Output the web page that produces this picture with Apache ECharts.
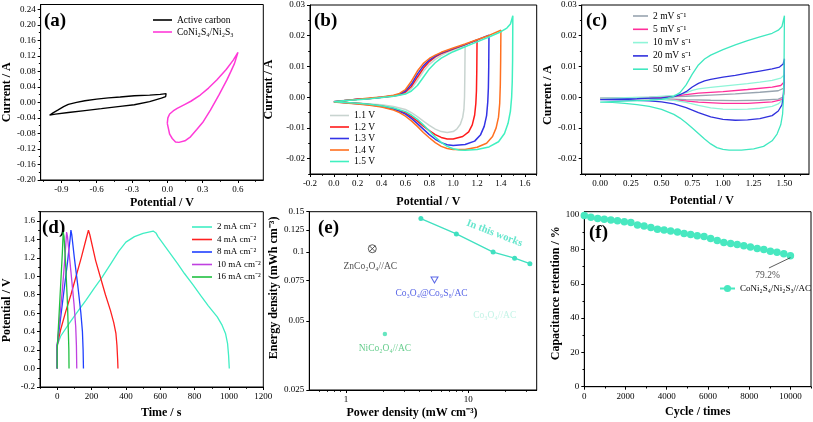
<!DOCTYPE html>
<html><head><meta charset="utf-8">
<script src="https://cdn.jsdelivr.net/npm/echarts@6/dist/echarts.min.js"></script>
<style>html,body{margin:0;padding:0;background:#fff}#c{width:813px;height:422px}</style>
</head><body><div id="c"></div><script>
const FONT = '"Liberation Serif","Times New Roman",serif';

// ---------- (a) CV of electrodes ----------
const aCarbon = [[-1.0,-0.033],[-0.97,-0.027],[-0.93,-0.020],[-0.88,-0.011],[-0.84,-0.005],[-0.77,0.0],[-0.70,0.0043],[-0.6,0.0085],[-0.5,0.0115],[-0.4,0.014],[-0.28,0.0172],[-0.15,0.019],[-0.06,0.0206],[-0.01,0.0225],[0,0.025],[-0.004,0.018],[-0.014,0.015],[-0.05,0.011],[-0.15,0.002],[-0.28,-0.006],[-0.4,-0.010],[-0.56,-0.016],[-0.7,-0.021],[-0.84,-0.026],[-0.95,-0.030],[-1.0,-0.033]];
const aCoNi = [[0,-0.054],[0.005,-0.04],[0.02,-0.03],[0.05,-0.022],[0.084,-0.0155],[0.15,-0.005],[0.2,0.003],[0.28,0.019],[0.35,0.037],[0.42,0.058],[0.5,0.085],[0.56,0.109],[0.6,0.129],[0.57,0.1],[0.54,0.08],[0.506,0.058],[0.44,0.02],[0.366,-0.02],[0.3,-0.052],[0.25,-0.07],[0.197,-0.0886],[0.15,-0.099],[0.098,-0.103],[0.07,-0.102],[0.042,-0.093],[0.02,-0.082],[0.012,-0.071],[0,-0.054]];
const aXLabels = [-0.9,-0.6,-0.3,0.0,0.3,0.6];
const aXMinor = [-1.05,-0.75,-0.45,-0.15,0.15,0.45,0.75];
const aYLabels = [-0.20,-0.16,-0.12,-0.08,-0.04,0.00,0.04,0.08,0.12,0.16,0.20,0.24];
const aYMinor = [-0.18,-0.14,-0.10,-0.06,-0.02,0.02,0.06,0.10,0.14,0.18,0.22];

// ---------- (b) CV at different windows ----------
const b11 = [[0,-0.0014],[0.1,-0.0010],[0.2,-0.0007],[0.3,-0.0004],[0.4,-0.0001],[0.5,0.0003],[0.55,0.0006],[0.6,0.0013],[0.65,0.0028],[0.7,0.0055],[0.75,0.0084],[0.8,0.0107],[0.85,0.0123],[0.9,0.0136],[0.95,0.0146],[1.0,0.0154],[1.05,0.0161],[1.1,0.0168],[1.098,0.008],[1.095,0.0],[1.09,-0.004],[1.08,-0.0065],[1.06,-0.0088],[1.03,-0.0104],[1.0,-0.0112],[0.95,-0.0115],[0.9,-0.0112],[0.85,-0.0104],[0.8,-0.0092],[0.75,-0.0078],[0.7,-0.0063],[0.65,-0.0050],[0.6,-0.0040],[0.5,-0.0030],[0.4,-0.0025],[0.3,-0.0022],[0.2,-0.0019],[0.1,-0.0017],[0,-0.0014]];
const b12 = [[0,-0.0015],[0.1,-0.0011],[0.2,-0.0007],[0.3,-0.0004],[0.4,0.0],[0.5,0.0004],[0.55,0.0008],[0.6,0.0017],[0.65,0.0035],[0.7,0.0065],[0.75,0.0094],[0.8,0.0116],[0.85,0.0131],[0.9,0.0142],[1.0,0.0157],[1.1,0.0171],[1.2,0.0186],[1.198,0.009],[1.195,0.002],[1.19,-0.002],[1.18,-0.0058],[1.16,-0.0090],[1.13,-0.0113],[1.08,-0.0128],[1.0,-0.0136],[0.95,-0.0136],[0.9,-0.0131],[0.85,-0.0122],[0.8,-0.0109],[0.75,-0.0094],[0.7,-0.0078],[0.65,-0.0063],[0.6,-0.0051],[0.5,-0.0037],[0.4,-0.0029],[0.3,-0.0024],[0.2,-0.0020],[0.1,-0.0017],[0,-0.0015]];
const b13 = [[0,-0.0015],[0.1,-0.0011],[0.2,-0.0007],[0.3,-0.0004],[0.4,0.0],[0.5,0.0005],[0.55,0.0010],[0.6,0.0020],[0.65,0.0042],[0.7,0.0075],[0.75,0.0102],[0.8,0.0121],[0.85,0.0134],[0.9,0.0144],[1.0,0.0158],[1.1,0.0171],[1.2,0.0186],[1.3,0.0202],[1.298,0.010],[1.295,0.003],[1.29,-0.0015],[1.28,-0.0060],[1.26,-0.0095],[1.23,-0.0122],[1.18,-0.0143],[1.1,-0.0154],[1.0,-0.0157],[0.95,-0.0155],[0.9,-0.0148],[0.85,-0.0137],[0.8,-0.0122],[0.75,-0.0104],[0.7,-0.0086],[0.65,-0.0069],[0.6,-0.0055],[0.55,-0.0046],[0.5,-0.0039],[0.4,-0.0030],[0.3,-0.0025],[0.2,-0.0021],[0.1,-0.0018],[0,-0.0015]];
const b14 = [[0,-0.0016],[0.1,-0.0011],[0.2,-0.0007],[0.3,-0.0003],[0.4,0.0001],[0.5,0.0006],[0.55,0.0012],[0.6,0.0025],[0.65,0.0052],[0.7,0.0085],[0.75,0.0110],[0.8,0.0126],[0.85,0.0137],[0.9,0.0146],[1.0,0.0160],[1.1,0.0173],[1.2,0.0187],[1.3,0.0201],[1.4,0.0218],[1.398,0.012],[1.395,0.004],[1.39,-0.002],[1.38,-0.0065],[1.36,-0.0100],[1.33,-0.0128],[1.28,-0.0150],[1.2,-0.0163],[1.1,-0.0170],[1.0,-0.0170],[0.95,-0.0167],[0.9,-0.0160],[0.85,-0.0148],[0.8,-0.0132],[0.75,-0.0115],[0.7,-0.0095],[0.65,-0.0077],[0.6,-0.0062],[0.55,-0.0050],[0.5,-0.0042],[0.4,-0.0032],[0.3,-0.0026],[0.2,-0.0022],[0.1,-0.0019],[0,-0.0016]];
const b15 = [[0,-0.0015],[0.1,-0.0011],[0.2,-0.0008],[0.3,-0.0005],[0.4,-0.0001],[0.5,0.0003],[0.6,0.0010],[0.65,0.0020],[0.7,0.0038],[0.75,0.0065],[0.8,0.0092],[0.85,0.0112],[0.9,0.0127],[0.95,0.0138],[1.0,0.0148],[1.1,0.0164],[1.2,0.0180],[1.3,0.0196],[1.4,0.0213],[1.45,0.0225],[1.48,0.0238],[1.5,0.0265],[1.498,0.012],[1.495,0.005],[1.49,0.0],[1.48,-0.0045],[1.46,-0.0085],[1.43,-0.0118],[1.38,-0.0145],[1.3,-0.0162],[1.2,-0.0170],[1.1,-0.0173],[1.05,-0.0172],[1.0,-0.0168],[0.95,-0.0160],[0.9,-0.0147],[0.85,-0.0130],[0.8,-0.0110],[0.75,-0.0090],[0.7,-0.0072],[0.65,-0.0058],[0.6,-0.0047],[0.5,-0.0035],[0.4,-0.0028],[0.3,-0.0023],[0.2,-0.0020],[0.1,-0.0017],[0,-0.0015]];
const bXLabels = [-0.2,0.0,0.2,0.4,0.6,0.8,1.0,1.2,1.4,1.6];
const bXMinor = [-0.1,0.1,0.3,0.5,0.7,0.9,1.1,1.3,1.5,1.7];
const cvYLabels = [-0.02,-0.01,0.00,0.01,0.02,0.03];
const cvYMinor = [-0.025,-0.015,-0.005,0.005,0.015,0.025];

// ---------- (c) CV at different scan rates ----------
const c2 = [[0,-0.0003],[0.5,0.0],[0.7,0.0003],[0.9,0.0007],[1.1,0.0011],[1.3,0.0016],[1.45,0.0021],[1.5,0.0030],[1.49,0.0],[1.45,-0.0006],[1.3,-0.0010],[1.1,-0.0011],[0.9,-0.0010],[0.7,-0.0008],[0.5,-0.0005],[0,-0.0003]];
const c5 = [[0,-0.0004],[0.4,-0.0001],[0.6,0.0003],[0.7,0.0008],[0.8,0.0013],[1.0,0.0018],[1.2,0.0025],[1.4,0.0033],[1.47,0.0038],[1.5,0.0050],[1.495,0.001],[1.48,-0.0008],[1.4,-0.0015],[1.2,-0.0020],[1.0,-0.0020],[0.8,-0.0016],[0.6,-0.0009],[0.4,-0.0005],[0,-0.0004]];
const c10 = [[0,-0.0003],[0.4,0.0],[0.6,0.0006],[0.7,0.0014],[0.75,0.0022],[0.8,0.0027],[0.9,0.0032],[1.0,0.0036],[1.1,0.0040],[1.2,0.0044],[1.3,0.0049],[1.4,0.0055],[1.47,0.0062],[1.5,0.0073],[1.495,0.002],[1.485,-0.0008],[1.45,-0.0022],[1.4,-0.0030],[1.3,-0.0036],[1.2,-0.0039],[1.1,-0.0040],[1.0,-0.0039],[0.9,-0.0035],[0.8,-0.0027],[0.7,-0.0017],[0.6,-0.0010],[0.4,-0.0005],[0,-0.0003]];
const c20 = [[0,-0.0008],[0.3,-0.0005],[0.5,-0.0002],[0.6,0.0002],[0.65,0.0008],[0.7,0.0018],[0.75,0.0033],[0.8,0.0045],[0.85,0.0053],[0.9,0.0058],[1.0,0.0065],[1.1,0.0071],[1.2,0.0078],[1.3,0.0085],[1.4,0.0092],[1.46,0.0098],[1.49,0.0108],[1.5,0.0125],[1.497,0.005],[1.49,0.0],[1.48,-0.0025],[1.45,-0.0045],[1.4,-0.0060],[1.3,-0.0070],[1.2,-0.0074],[1.1,-0.0075],[1.0,-0.0072],[0.9,-0.0064],[0.8,-0.0050],[0.7,-0.0034],[0.6,-0.0022],[0.5,-0.0015],[0.4,-0.0012],[0.2,-0.0009],[0,-0.0008]];
const c50 = [[0,-0.0016],[0.2,-0.0013],[0.4,-0.0010],[0.5,-0.0007],[0.55,-0.0003],[0.6,0.0003],[0.65,0.0015],[0.7,0.0040],[0.75,0.0075],[0.8,0.0105],[0.85,0.0124],[0.9,0.0137],[1.0,0.0155],[1.1,0.0170],[1.2,0.0184],[1.3,0.0196],[1.4,0.0208],[1.45,0.0218],[1.48,0.0230],[1.5,0.0265],[1.497,0.010],[1.493,0.0],[1.485,-0.0055],[1.47,-0.0090],[1.44,-0.0120],[1.4,-0.0142],[1.33,-0.0160],[1.25,-0.0168],[1.15,-0.0172],[1.05,-0.0172],[1.0,-0.0170],[0.95,-0.0164],[0.9,-0.0152],[0.85,-0.0136],[0.8,-0.0118],[0.75,-0.0100],[0.7,-0.0083],[0.65,-0.0068],[0.6,-0.0056],[0.5,-0.0040],[0.4,-0.0030],[0.3,-0.0024],[0.2,-0.0020],[0.1,-0.0017],[0,-0.0016]];
const cXLabels = [0.00,0.25,0.50,0.75,1.00,1.25,1.50];
const cXMinor = [-0.125,0.125,0.375,0.625,0.875,1.125,1.375,1.625];

// ---------- (d) GCD ----------
const d2 = [[0,0],[0,0.25],[20,0.35],[70,0.49],[120,0.62],[167,0.74],[215,0.87],[262,0.99],[310,1.13],[358,1.27],[400,1.37],[450,1.43],[500,1.465],[559,1.49],[568,1.5],[575,1.47],[587,1.43],[645,1.28],[700,1.14],[741,1.03],[790,0.91],[836,0.79],[880,0.68],[932,0.56],[960,0.47],[980,0.38],[992,0.27],[998,0.14],[1002,0]];
const d4 = [[0,0],[0,0.25],[20,0.42],[50,0.62],[80,0.8],[110,1.0],[140,1.2],[165,1.38],[182,1.5],[190,1.45],[224,1.17],[250,1.0],[281,0.8],[310,0.63],[329,0.5],[342,0.38],[348,0.25],[352,0.1],[354,0]];
const d8 = [[0,0],[0,0.25],[20,0.55],[40,0.85],[60,1.15],[75,1.4],[80,1.5],[85,1.45],[100,1.2],[120,0.9],[138,0.6],[147,0.4],[151,0.2],[153,0]];
const d10 = [[0,0],[0,0.25],[15,0.55],[30,0.85],[45,1.2],[55,1.48],[60,1.43],[80,1.05],[98,0.7],[108,0.45],[112,0.25],[114,0]];
const d16 = [[0,0],[0,0.2],[10,0.55],[20,0.9],[30,1.25],[35,1.48],[40,1.43],[50,1.1],[60,0.7],[65,0.4],[68,0.2],[69,0]];
const dXLabels = [0,200,400,600,800,1000,1200];
const dXMinor = [-100,100,300,500,700,900,1100];
const dYLabels = [-0.2,0.0,0.2,0.4,0.6,0.8,1.0,1.2,1.4,1.6];
const dYMinor = [-0.1,0.1,0.3,0.5,0.7,0.9,1.1,1.3,1.5,1.7];

// ---------- (e) Ragone ----------
const eWorkPower = [4.1,8,16,24,32];
const eWorkEnergy = [0.14,0.12,0.1,0.094,0.089];
const eZn = [1.64,0.1034];
const eCoS = [5.3,0.0755];
const eNiCo = [2.08,0.0439];
const eCo3O4 = [16.5,0.0531];
const eWorkText = [16.4,0.1207];
const eXLabels = [1,10];
const eXMinor = [0.6,0.7,0.8,0.9,2,3,4,5,6,7,8,9,20,30];
const eYLabels = [0.025,0.05,0.075,0.1,0.125,0.15];

// ---------- (f) cycling ----------
const fCycles = [0,320,650,970,1290,1610,1940,2260,2580,2900,3230,3550,3870,4190,4520,4840,5160,5480,5810,6130,6450,6770,7100,7420,7740,8060,8390,8710,9030,9350,9680,10000];
const fRet = [99.8,98.8,98.1,97.6,97.1,96.7,96.1,95.7,94.2,93.6,92.8,91.8,91.3,90.7,90.1,89.3,88.7,88.0,87.6,86.4,85.2,84.1,83.5,82.9,82.1,81.4,80.6,80.0,79.0,78.3,77.5,76.3];
const fXLabels = [0,2000,4000,6000,8000,10000];
const fXMinor = [1000,3000,5000,7000,9000,11000];
const fYLabels = [0,20,40,60,80,100];
const fYMinor = [10,30,50,70,90];
const fArrow = [[10000,75.2],[8960,69.2]];
const fNote = [8896,64.9];

// ---------- builders ----------
const grids = [], xAxes = [], yAxes = [], series = [], legends = [], graphics = [];
const XI = [], YI = [];
function addGrid(left, top, width, height){
  grids.push({left, top, width, height, show:true, borderColor:'#000', borderWidth:1, backgroundColor:'transparent'});
  return grids.length - 1;
}
function addAxis(dim, gi, o){
  const pos = dim === 'x' ? 'bottom' : 'left';
  const type = o.type || 'value';
  const major = {
    type, gridIndex: gi, min: o.min, max: o.max, position: pos,
    axisLine:{show:true, onZero:false, lineStyle:{color:'#000', width:1}},
    axisTick:{show:true, customValues:o.ticks, length:3, lineStyle:{color:'#000', width:1}},
    axisLabel:{show:true, customValues:o.ticks, formatter:o.fmt, fontFamily:FONT, fontSize:9, color:'#000', margin:o.margin || 5},
    splitLine:{show:false},
    name:o.name, nameLocation:'middle', nameGap:o.nameGap,
    nameTextStyle:{fontFamily:FONT, fontSize:12, fontWeight:'bold', color:'#000', padding:o.namePad || 0}
  };
  const arr = dim === 'x' ? xAxes : yAxes;
  arr.push(major);
  const idx = arr.length - 1;
  if (o.minors) {
    arr.push({
      type, gridIndex: gi, min:o.min, max:o.max, position: pos,
      axisLine:{show:false, onZero:false},
      axisTick:{show:true, customValues:o.minors, length:1.8, lineStyle:{color:'#000', width:1}},
      axisLabel:{show:false}, splitLine:{show:false}
    });
  }
  return idx;
}
function line(gi, name, data, color, width, extra){
  series.push(Object.assign({
    type:'line', name, data, xAxisIndex:XI[gi], yAxisIndex:YI[gi],
    symbol:'none', lineStyle:{color, width}, itemStyle:{color}, silent:true, animation:false
  }, extra || {}));
}
function legend(left, top, names, itemWidth, itemGap, extra){
  legends.push(Object.assign({
    left, top, orient:'vertical', padding:0, itemWidth, itemHeight:1.6, itemGap, icon:'rect',
    selectedMode:false, data:names, textStyle:{fontFamily:FONT, fontSize:9.5, lineHeight:10, color:'#000'}
  }, extra || {}));
}
function panelLabel(text, left, top){
  graphics.push({type:'text', left, top, silent:true, style:{text, fontFamily:FONT, fontSize:19, fontWeight:'bold', fill:'#000'}});
}
const f1 = v => v.toFixed(1), f2 = v => v.toFixed(2), f0 = v => String(v);

// (a)
let g = addGrid(39.3, 4.5, 224, 175.5);
XI[g] = addAxis('x', g, {min:-1.075, max:0.815, ticks:aXLabels, minors:aXMinor, fmt:f1, name:'Potential / V', nameGap:17, namePad:[0,0,0,20]});
YI[g] = addAxis('y', g, {min:-0.2, max:0.2524, ticks:aYLabels, minors:aYMinor, fmt:f2, name:'Current / A', nameGap:25});
line(g, 'Active carbon', aCarbon, '#000000', 1.3);
line(g, 'CoNi₂S₄/Ni₂S₃', aCoNi, '#ff3ad8', 1.5);
legend(153, 15, ['Active carbon','CoNi₂S₄/Ni₂S₃'], 19, 2);
panelLabel('(a)', 44, 12);

// (b)
g = addGrid(310, 5, 226.7, 169);
XI[g] = addAxis('x', g, {min:-0.2, max:1.7, ticks:bXLabels, minors:bXMinor, fmt:f1, name:'Potential / V', nameGap:21.7, namePad:[0,0,0,10]});
YI[g] = addAxis('y', g, {min:-0.025, max:0.03, ticks:cvYLabels, minors:cvYMinor, fmt:f2, name:'Current / A', nameGap:35});
line(g, '1.1 V', b11, '#c8d4d0', 1.5);
line(g, '1.2 V', b12, '#ff1a1a', 1.5);
line(g, '1.3 V', b13, '#3333e6', 1.5);
line(g, '1.4 V', b14, '#ff7020', 1.5);
line(g, '1.5 V', b15, '#40f0c0', 1.5);
legend(330, 110.5, ['1.1 V','1.2 V','1.3 V','1.4 V','1.5 V'], 19, 1.5);
panelLabel('(b)', 314, 12);

// (c)
g = addGrid(581.7, 5, 227.3, 169);
XI[g] = addAxis('x', g, {min:-0.15, max:1.7, ticks:cXLabels, minors:cXMinor, fmt:f2, name:'Potential / V', nameGap:20.7, namePad:[0,0,0,13]});
YI[g] = addAxis('y', g, {min:-0.025, max:0.03, ticks:cvYLabels, minors:cvYMinor, fmt:f2, name:'Current / A', nameGap:26.7, namePad:[0,11,0,0]});
line(g, '2 mV s⁻¹', c2, '#98a4b0', 1.3);
line(g, '5 mV s⁻¹', c5, '#ff2e9a', 1.3);
line(g, '10 mV s⁻¹', c10, '#8ff5d8', 1.3);
line(g, '20 mV s⁻¹', c20, '#3030dd', 1.3);
line(g, '50 mV s⁻¹', c50, '#40e8c0', 1.3);
legend(633, 11, ['2 mV s⁻¹','5 mV s⁻¹','10 mV s⁻¹','20 mV s⁻¹','50 mV s⁻¹'], 15, 3.3);
panelLabel('(c)', 586, 12);

// (d)
g = addGrid(39.3, 211.7, 224, 175.3);
XI[g] = addAxis('x', g, {min:-100, max:1200, ticks:dXLabels, minors:dXMinor, fmt:f0, name:'Time / s', nameGap:20.3, namePad:[0,0,0,19]});
YI[g] = addAxis('y', g, {min:-0.2, max:1.7, ticks:dYLabels, minors:dYMinor, fmt:f1, name:'Potential / V', nameGap:27, namePad:[0,22,0,0]});
line(g, '2 mA cm⁻²', d2, '#40eec4', 1.3);
line(g, '4 mA cm⁻²', d4, '#ff2020', 1.3);
line(g, '8 mA cm⁻²', d8, '#2040ff', 1.3);
line(g, '10 mA cm⁻²', d10, '#c040e0', 1.3);
line(g, '16 mA cm⁻²', d16, '#20c040', 1.3);
legend(192, 222, ['2 mA cm⁻²','4 mA cm⁻²','8 mA cm⁻²','10 mA cm⁻²','16 mA cm⁻²'], 20, 2.5, {textStyle:{fontFamily:FONT, fontSize:9, lineHeight:10, color:'#000'}});
panelLabel('(d)', 42, 219);

// (e)
g = addGrid(309.3, 211.7, 227.4, 178.3);
XI[g] = addAxis('x', g, {type:'log', min:0.5, max:36.4, ticks:eXLabels, minors:eXMinor, fmt:f0, name:'Power density (mW cm⁻³)', nameGap:17.3, namePad:[0,22,0,0]});
YI[g] = addAxis('y', g, {type:'log', min:0.025, max:0.15, ticks:eYLabels, fmt:f0, name:'Energy density (mWh cm⁻³)', nameGap:27.3, namePad:[0,0,0,26]});
line(g, 'In this works', eWorkPower.map((p,i)=>[p, eWorkEnergy[i]]), '#40e0c0', 1.3, {symbol:'circle', symbolSize:5, showSymbol:true});
const lbl = (text, color, offset) => ({show:true, position:'inside', offset, formatter:text, color, fontFamily:FONT, fontSize:9.5});
series.push({type:'scatter', name:'_zn', xAxisIndex:XI[g], yAxisIndex:YI[g], data:[eZn], silent:true,
  symbol:'path://M10,0A10,10,0,1,1,-10,0A10,10,0,1,1,10,0ZM7.07,7.07L-7.07,-7.07M7.07,-7.07L-7.07,7.07', symbolSize:8,
  itemStyle:{color:'rgba(0,0,0,0)', borderColor:'#333', borderWidth:1}, label:lbl('ZnCo₂O₄//AC','#222',[-2,18])});
series.push({type:'scatter', name:'_cos', xAxisIndex:XI[g], yAxisIndex:YI[g], data:[eCoS], silent:true,
  symbol:'path://M0,0L10,0L5,9Z', symbolSize:[7,6],
  itemStyle:{color:'rgba(0,0,0,0)', borderColor:'#3040e0', borderWidth:1}, label:lbl('Co₃O₄@Co₉S₈/AC','#3040e0',[-3,13])});
series.push({type:'scatter', name:'_nico', xAxisIndex:XI[g], yAxisIndex:YI[g], data:[eNiCo], silent:true,
  symbol:'circle', symbolSize:4.5, itemStyle:{color:'#40e0b0'}, label:lbl('NiCo₂O₄//AC','#40c070',[0,15])});
series.push({type:'scatter', name:'_co3o4', xAxisIndex:XI[g], yAxisIndex:YI[g], data:[eCo3O4], silent:true,
  symbolSize:1, itemStyle:{color:'rgba(0,0,0,0)'}, label:lbl('Co₃O₄//AC','#b4f0e0',[0,0])});
series.push({type:'scatter', name:'_work', xAxisIndex:XI[g], yAxisIndex:YI[g], data:[eWorkText], silent:true,
  symbolSize:1, itemStyle:{color:'rgba(0,0,0,0)'},
  label:{show:true, position:'inside', formatter:'In this works', color:'#40e0c0', fontFamily:FONT, fontSize:10.5, fontWeight:'bold', rotate:-21}});
panelLabel('(e)', 318, 219);

// (f)
g = addGrid(584.3, 211.7, 226.7, 175);
XI[g] = addAxis('x', g, {min:0, max:11000, ticks:fXLabels, minors:fXMinor, fmt:f0, name:'Cycle / times', nameGap:19});
YI[g] = addAxis('y', g, {min:0, max:102, ticks:fYLabels, minors:fYMinor, fmt:f0, name:'Capacitance retention / %', nameGap:20.8, namePad:[0,0,0,12]});
line(g, 'CoNi₂S₄/Ni₂S₃//AC', fCycles.map((c,i)=>[c, fRet[i]]), '#48e8c0', 1, {
  symbol:'circle', symbolSize:7.5, showSymbol:true,
  markLine:{silent:true, symbol:['none','arrow'], symbolSize:[0,5], animation:false,
    lineStyle:{color:'#333', width:0.8, type:'solid'}, label:{show:false},
    data:[[{coord:fArrow[0]},{coord:fArrow[1]}]]}
});
series.push({type:'scatter', name:'_note', xAxisIndex:XI[g], yAxisIndex:YI[g], data:[fNote], silent:true,
  symbolSize:1, itemStyle:{color:'rgba(0,0,0,0)'}, label:lbl('79.2%','#222',[0,0])});
legends.push({left:719, top:284, orient:'vertical', padding:0, itemWidth:15, itemHeight:9, selectedMode:false,
  data:['CoNi₂S₄/Ni₂S₃//AC'], textStyle:{fontFamily:FONT, fontSize:9, color:'#000'}});
panelLabel('(f)', 589, 224);

const chart = echarts.init(document.getElementById('c'), null, {renderer:'canvas'});
chart.setOption({
  animation:false, backgroundColor:'#fff',
  grid:grids, xAxis:xAxes, yAxis:yAxes, series, legend:legends, graphic:graphics
});
</script></body></html>
